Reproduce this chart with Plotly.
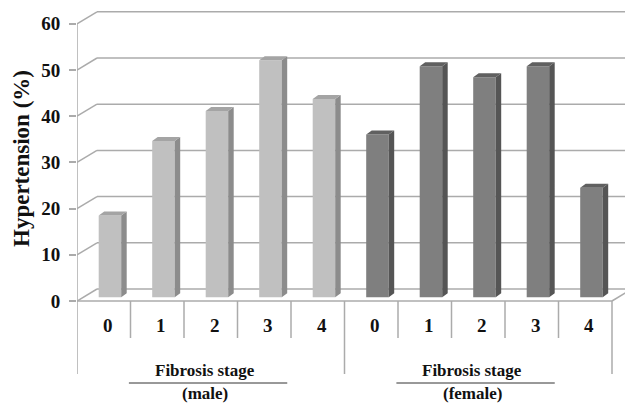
import plotly.graph_objects as go

# ---------------- data ----------------
stages = ["0", "1", "2", "3", "4"]
group_titles = ["Fibrosis stage", "Fibrosis stage"]
group_sub = ["(male)", "(female)"]
male = [17.7, 33.8, 40.3, 51.3, 42.9]
female = [35.2, 50.0, 47.6, 50.0, 23.7]
y_ticks = [0, 10, 20, 30, 40, 50, 60]
y_title = "Hypertension (%)"

# ---------------- geometry (pixel based helpers) ----------------
W, H = 625, 404
L = 77            # left edge of plot (front axis)
X_PER = 53.5      # px per category slot
Y_PER = 4.62      # px per 1 %
Y0PX = 301        # pixel row of value 0 on front plane


def ux(px):
    return (px - L) / X_PER - 0.5


def uy(py):
    return (Y0PX - py) / Y_PER


xr = [-0.5, ux(W)]
yr = [uy(H), uy(0)]

DX, DY = 20 / X_PER, 12 / Y_PER        # floor / wall depth
SX, SY = 6.2 / X_PER, 3.8 / Y_PER      # offset of bar front face
BDX, BDY = 5.5 / X_PER, 4 / Y_PER      # bar depth
BW = 22.5 / X_PER                      # bar width

FONT = "Liberation Serif, Times New Roman, serif"
GRID = "#ababab"

styles = [
    dict(front="#c0c0c0", side="#8c8c8c", top="#a4a4a4"),
    dict(front="#7f7f7f", side="#555555", top="#606060"),
]

fig = go.Figure()
n = len(stages)
for g, vals in enumerate([male, female]):
    xs = [g * n + i + SX for i in range(n)]
    st = styles[g]
    fig.add_trace(go.Bar(x=xs, y=vals, base=SY, width=BW,
                         marker=dict(color=st["front"], line=dict(width=0)),
                         hoverinfo="skip", showlegend=False))
    sx, sy, tx, ty = [], [], [], []
    for xc, v in zip(xs, vals):
        x0, x1 = xc - BW / 2, xc + BW / 2
        b, t = SY, SY + v
        sx += [x1, x1 + BDX, x1 + BDX, x1, x1, None]
        sy += [b, b + BDY, t + BDY, t, b, None]
        tx += [x0, x1, x1 + BDX, x0 + BDX, x0, None]
        ty += [t, t, t + BDY, t + BDY, t, None]
    fig.add_trace(go.Scatter(x=sx, y=sy, mode="lines", fill="toself",
                             fillcolor=st["side"], line=dict(width=0, color=st["side"]),
                             hoverinfo="skip", showlegend=False))
    fig.add_trace(go.Scatter(x=tx, y=ty, mode="lines", fill="toself",
                             fillcolor=st["top"], line=dict(width=0, color=st["top"]),
                             hoverinfo="skip", showlegend=False))

shapes = []


def line(x0, y0, x1, y1, color=GRID, width=1.5):
    shapes.append(dict(type="line", xref="x", yref="y", x0=x0, y0=y0, x1=x1, y1=y1,
                       line=dict(color=color, width=width), layer="below"))


# walls / gridlines
for v in y_ticks:
    line(-0.5, v, -0.5 + DX, v + DY)
    line(-0.5 + DX, v + DY, xr[1] + 1, v + DY)
# floor front edge and right edge
xend = 2 * n - 0.5
line(-0.5, 0, xend, 0)
line(xend, 0, xend + DX, DY)
# front vertical axis incl. table border
line(-0.5, y_ticks[-1], -0.5, uy(374))
# table dividers
for g in range(2):
    for i in range(1, n):
        xb = g * n + i - 0.5
        line(xb, 0, xb, uy(338))
    xg = (g + 1) * n - 0.5
    line(xg, 0, xg, uy(374))
# underline of group titles
for g in range(2):
    shapes.append(dict(type="line", xref="x", yref="y",
                       x0=g * n + 0.47, x1=g * n + 3.43, y0=uy(383), y1=uy(383),
                       line=dict(color="#333333", width=1), layer="below"))

annotations = []
for g in range(2):
    for i, s in enumerate(stages):
        annotations.append(dict(x=g * n + i + 4 / X_PER, y=uy(325), xref="x", yref="y",
                                text=s, showarrow=False,
                                font=dict(family=FONT, size=19, color="#111111", weight="bold")))
    cx = g * n + (n - 1) / 2 - 6 / X_PER
    annotations.append(dict(x=cx, y=uy(370), xref="x", yref="y", text=group_titles[g],
                            showarrow=False,
                            font=dict(family=FONT, size=17, color="#111111", weight="bold")))
    annotations.append(dict(x=cx, y=uy(393), xref="x", yref="y", text=group_sub[g],
                            showarrow=False,
                            font=dict(family=FONT, size=17, color="#111111", weight="bold")))
annotations.append(dict(x=(21 - L) / (W - L), y=1 - 159 / H, xref="paper", yref="paper",
                        text=y_title, textangle=-90, showarrow=False,
                        xanchor="center", yanchor="middle",
                        font=dict(family=FONT, size=23, color="#111111", weight="bold")))

fig.update_layout(
    width=W, height=H,
    margin=dict(l=L, r=0, t=0, b=0),
    paper_bgcolor="white", plot_bgcolor="white",
    barmode="overlay",
    showlegend=False,
    shapes=shapes,
    annotations=annotations,
    xaxis=dict(range=xr, visible=False, fixedrange=True),
    yaxis=dict(range=yr, tickmode="array", tickvals=y_ticks,
               ticks="outside", ticklen=7, tickwidth=1.5, tickcolor=GRID,
               ticklabelstandoff=5,
               showgrid=False, zeroline=False, showline=False,
               tickfont=dict(family=FONT, size=19, color="#111111", weight="bold"),
               fixedrange=True),
)

fig.write_html("out.html", config={"displayModeBar": False})
